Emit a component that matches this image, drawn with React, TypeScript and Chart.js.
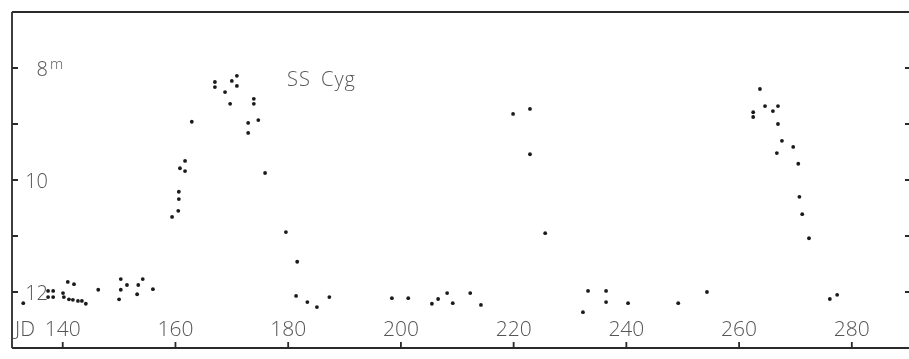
import { useEffect, useRef } from 'react';
import { Chart, registerables } from 'chart.js';

Chart.register(...registerables);

// Julian Day (JD 2440000+ offset as printed) and visual magnitude of each estimate
const julianDays = [
  133.0, 137.4, 138.3, 137.4, 138.3, 140.05, 140.2, 140.9, 142.0, 141.1, 141.8, 142.7, 143.4, 144.1,
  146.3, 150.3, 150.3, 150.0, 151.4, 153.4, 153.2, 154.2, 156.0,
  159.4, 160.5, 160.6, 160.6, 160.8, 161.7, 161.7, 162.9,
  167.0, 167.0, 168.8, 169.7, 170.0, 170.9, 170.9, 173.9, 173.9, 172.9, 172.9, 174.7, 175.9,
  179.6, 181.6, 181.4, 183.4, 185.1, 187.3,
  198.4, 201.3, 205.5, 206.6, 208.2, 209.2, 212.3, 214.2,
  219.9, 222.9, 222.9, 225.6,
  232.3, 233.2, 236.4, 236.4, 240.3, 249.2, 254.3,
  263.7, 264.6, 266.9, 266.0, 262.5, 262.5, 266.9, 267.6, 269.6, 266.7, 270.5, 270.7, 271.2, 272.4,
  276.1, 277.4,
];
const magnitudes = [
  12.2, 11.98, 11.98, 12.09, 12.09, 12.02, 12.09, 11.82, 11.86, 12.13, 12.14, 12.16, 12.16, 12.21,
  11.96, 11.77, 11.96, 12.13, 11.875, 11.875, 12.04, 11.77, 11.95,
  10.66, 10.55, 10.34, 10.21, 9.79, 9.66, 9.84, 8.96,
  8.25, 8.34, 8.43, 8.64, 8.23, 8.14, 8.32, 8.55, 8.64, 8.98, 9.16, 8.93, 9.875,
  10.93, 11.46, 12.07, 12.18, 12.27, 12.09,
  12.11, 12.11, 12.21, 12.125, 12.02, 12.2, 12.02, 12.23,
  8.82, 8.73, 9.54, 10.95,
  12.36, 11.98, 11.98, 12.18, 12.2, 12.2, 12.0,
  8.375, 8.68, 8.68, 8.77, 8.79, 8.875, 9.0, 9.3, 9.41, 9.52, 9.71, 10.3, 10.61, 11.04,
  12.125, 12.05,
];

const xTickValues = [140, 160, 180, 200, 220, 240, 260, 280];
const xTickLabels = ['140', '160', '180', '200', '220', '240', '260', '280'];
const xAxisPrefix = 'JD';
const yTickValues = [8, 9, 10, 11, 12];
const yLabelValues = [8, 10, 12];
const yLabelTexts = ['8', '10', '12'];
const magnitudeUnit = 'm';
const starName = 'SS Cyg';

const xMin = 131;
const xMax = 290.5;
const yMin = 7;
const yMax = 13;

const INK = '#2a2a2a';
const TEXT = '#555555';

const framePlugin = {
  id: 'frameAndLabels',
  afterDraw(chart: any) {
    const { ctx, chartArea: a, scales } = chart;
    const x = scales.x;
    const y = scales.y;
    ctx.save();
    ctx.strokeStyle = INK;
    ctx.lineWidth = 1.8;
    ctx.beginPath();
    ctx.moveTo(a.left, a.top);
    ctx.lineTo(a.right, a.top);
    ctx.moveTo(a.left, a.top);
    ctx.lineTo(a.left, a.bottom);
    ctx.moveTo(a.left, a.bottom);
    ctx.lineTo(a.right, a.bottom);
    // inward ticks
    const tl = 6;
    for (const v of yTickValues) {
      const py = y.getPixelForValue(v);
      ctx.moveTo(a.left, py);
      ctx.lineTo(a.left + tl, py);
      ctx.moveTo(a.right, py);
      ctx.lineTo(a.right - tl, py);
    }
    for (const v of xTickValues) {
      const px = x.getPixelForValue(v);
      ctx.moveTo(px, a.bottom);
      ctx.lineTo(px, a.bottom - tl);
    }
    ctx.stroke();

    ctx.fillStyle = TEXT;
    // y labels
    ctx.font = '300 20px "Open Sans", Lato, sans-serif';
    ctx.textAlign = 'right';
    ctx.textBaseline = 'middle';
    yLabelValues.forEach((v, i) => {
      ctx.fillText(yLabelTexts[i], a.left + 36, y.getPixelForValue(v) + 2);
    });
    // magnitude unit superscript on first label
    ctx.font = '300 15px "Open Sans", Lato, sans-serif';
    ctx.textAlign = 'left';
    ctx.textBaseline = 'alphabetic';
    ctx.fillText(magnitudeUnit, a.left + 38, y.getPixelForValue(yLabelValues[0]) + 1);

    // x labels (inside, above bottom axis)
    ctx.font = '300 21px "Open Sans", Lato, sans-serif';
    ctx.textAlign = 'center';
    ctx.textBaseline = 'middle';
    const ly = a.bottom - 18;
    xTickValues.forEach((v, i) => {
      ctx.fillText(xTickLabels[i], x.getPixelForValue(v), ly);
    });
    ctx.textAlign = 'left';
    ctx.fillText(xAxisPrefix, a.left + 3, ly);

    // star name
    ctx.font = '300 20px "Open Sans", Lato, sans-serif';
    (ctx as any).letterSpacing = '1px';
    (ctx as any).wordSpacing = '4px';
    ctx.textAlign = 'left';
    ctx.textBaseline = 'alphabetic';
    ctx.fillText(starName, a.left + 275, a.top + 74);
    (ctx as any).letterSpacing = '0px';
    (ctx as any).wordSpacing = '0px';
    ctx.restore();
  },
};

export default function App() {
  const ref = useRef<HTMLCanvasElement | null>(null);

  useEffect(() => {
    if (!ref.current) return;
    document.body.style.overflow = 'hidden';
    const points = julianDays.map((jd, i) => ({ x: jd, y: magnitudes[i] }));
    const chart = new Chart(ref.current, {
      type: 'scatter',
      data: {
        datasets: [
          {
            data: points,
            pointRadius: 1.9,
            pointHoverRadius: 1.9,
            backgroundColor: '#1a1a1a',
            borderWidth: 0,
            showLine: false,
          },
        ],
      },
      options: {
        animation: false,
        responsive: false,
        devicePixelRatio: 1,
        layout: { padding: { left: 12, top: 12, right: 4, bottom: 11 } },
        plugins: { legend: { display: false }, tooltip: { enabled: false } },
        scales: {
          x: { type: 'linear', min: xMin, max: xMax, display: false },
          y: { type: 'linear', min: yMin, max: yMax, reverse: true, display: false },
        },
      },
      plugins: [framePlugin],
    });
    return () => chart.destroy();
  }, []);

  return (
    <div style={{ position: 'fixed', left: 0, top: 0, width: 909, height: 359, overflow: 'hidden', background: '#fff' }}>
      <canvas ref={ref} width={915} height={359} style={{ display: 'block', width: 915, height: 359 }} />
    </div>
  );
}
